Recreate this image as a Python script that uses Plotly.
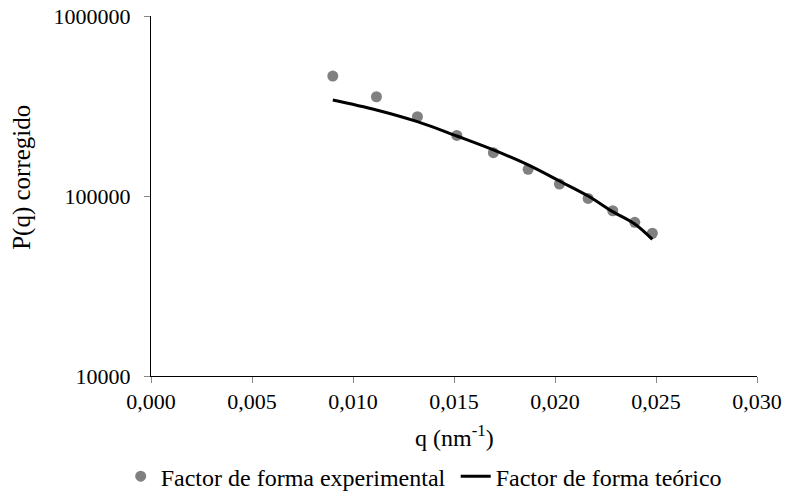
import plotly.graph_objects as go

# Scattering vector q (nm^-1)
q_nm = [0.00900, 0.01116, 0.01319, 0.01514, 0.01695, 0.01867,
        0.02022, 0.02164, 0.02286, 0.02395, 0.02482]

# Corrected form factor P(q): experimental points and theoretical curve
p_experimental = [464000, 356000, 276000, 217000, 174000, 140700,
                  116600, 97000, 82800, 71400, 62100]
p_teorico = [341600, 300600, 258800, 215400, 180300, 148700,
             121100, 100000, 81900, 69900, 57400]

y_tickvals = [10000, 100000, 1000000]
y_ticktext = ["10000", "100000", "1000000"]

FONT = "Liberation Serif"

fig = go.Figure()
fig.add_trace(go.Scatter(
    x=q_nm, y=p_experimental, mode="markers",
    name="Factor de forma experimental",
    marker=dict(color="#808080", size=11),
))
fig.add_trace(go.Scatter(
    x=q_nm, y=p_teorico, mode="lines",
    name="Factor de forma teórico",
    line=dict(color="#000000", width=3, shape="spline"),
))

fig.update_layout(
    width=785, height=493,
    margin=dict(l=151, r=28, t=16, b=117, autoexpand=False),
    paper_bgcolor="white", plot_bgcolor="white",
    separators=",.",
    font=dict(family=FONT, size=21, color="#000000"),
    showlegend=True,
    legend=dict(
        orientation="h", x=-0.05, xanchor="left", y=-0.217, yanchor="top",
        font=dict(family=FONT, size=24),
        entrywidth=290, itemwidth=30,
        bgcolor="rgba(0,0,0,0)",
    ),
    annotations=[
        dict(text="P(q) corregido", textangle=-90, xref="paper", yref="paper",
             x=-0.213, y=0.553, xanchor="center", yanchor="middle",
             showarrow=False, font=dict(family=FONT, size=25)),
        dict(text="q (nm<sup>-1</sup>)", xref="paper", yref="paper",
             x=0.5, y=-0.168, xanchor="center", yanchor="middle",
             showarrow=False, font=dict(family=FONT, size=24)),
    ],
)

fig.update_xaxes(
    range=[0, 0.030], dtick=0.005, tick0=0, tickformat=".3f",
    showgrid=False, zeroline=False,
    showline=True, linecolor="#000000", linewidth=1,
    ticks="outside", ticklen=6, tickcolor="#888888",
    tickfont=dict(family=FONT, size=22),
)
fig.update_yaxes(
    type="log", range=[4, 6],
    tickvals=y_tickvals, ticktext=y_ticktext,
    showgrid=False, zeroline=False,
    showline=True, linecolor="#000000", linewidth=1,
    ticks="outside", ticklen=6, tickcolor="#888888",
    ticklabelstandoff=9,
    tickfont=dict(family=FONT, size=22),
)

fig.write_html("out.html")
